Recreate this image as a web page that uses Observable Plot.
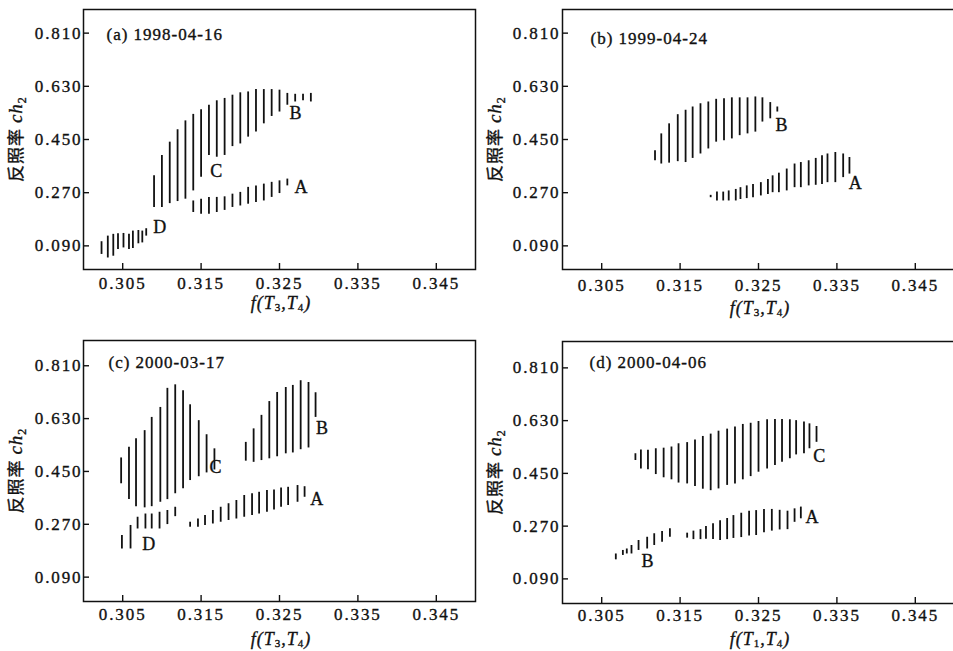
<!DOCTYPE html>
<html><head><meta charset="utf-8">
<script src="https://cdn.jsdelivr.net/npm/d3@7"></script>
<script src="https://cdn.jsdelivr.net/npm/@observablehq/plot@0.6"></script>
<style>
body{margin:0;background:#fff;}
#wrap{position:relative;width:953px;height:651px;overflow:hidden;background:#fff;}
#wrap svg{position:absolute;overflow:visible;}
#wrap svg text{stroke:#111;stroke-width:0.35px;}
#wrap svg [aria-label="x-axis tick label"] text,
#wrap svg [aria-label="y-axis tick label"] text{letter-spacing:1.9px;}
</style></head><body><div id="wrap"></div>
<script>
// ---- ticks ----
const xTicks = [0.305, 0.315, 0.325, 0.335, 0.345];
const yTicks = [0.090, 0.270, 0.450, 0.630, 0.810];

// ---- panel (a) 1998-04-16 ----
const aD_x  = [0.3023,0.3031,0.3038,0.3044,0.3051,0.3058,0.3063,0.3070,0.3075,0.3080];
const aD_hi = [0.104,0.123,0.129,0.131,0.132,0.129,0.140,0.142,0.140,0.148];
const aD_lo = [0.061,0.049,0.055,0.078,0.083,0.078,0.081,0.097,0.100,0.123];
const aCB_x  = [0.309,0.310,0.311,0.312,0.313,0.314,0.315,0.316,0.317,0.318,0.319,0.320,0.321,0.322,0.323,0.324,0.325,0.326,0.327,0.328,0.329];
const aCB_hi = [0.327,0.396,0.441,0.483,0.513,0.535,0.551,0.566,0.581,0.589,0.600,0.608,0.611,0.619,0.619,0.619,0.617,0.606,0.603,0.603,0.606];
const aCB_lo = [0.220,0.220,0.233,0.240,0.248,0.276,0.322,0.396,0.390,0.396,0.426,0.435,0.458,0.475,0.503,0.528,0.543,0.566,0.577,0.581,0.577];
const aA_x  = [0.314,0.315,0.316,0.317,0.318,0.319,0.320,0.321,0.322,0.323,0.324,0.325,0.326];
const aA_hi = [0.242,0.248,0.254,0.254,0.256,0.265,0.271,0.288,0.293,0.299,0.305,0.310,0.316];
const aA_lo = [0.203,0.197,0.197,0.203,0.210,0.220,0.225,0.231,0.237,0.242,0.254,0.267,0.293];
const aLab_text = ["A","B","C","D"];
const aLab_x = [0.3278,0.3271,0.3170,0.3098];
const aLab_y = [0.288,0.538,0.344,0.154];

// ---- panel (b) 1999-04-24 ----
const bB_x  = [0.3118,0.3126,0.3136,0.3147,0.3157,0.3166,0.3176,0.3186,0.3196,0.3206,0.3216,0.3226,0.3236,0.3246,0.3255,0.3265,0.3274];
const bB_hi = [0.412,0.469,0.503,0.534,0.549,0.560,0.571,0.577,0.586,0.588,0.591,0.591,0.591,0.594,0.591,0.575,0.560];
const bB_lo = [0.378,0.367,0.370,0.375,0.372,0.386,0.401,0.418,0.441,0.446,0.452,0.463,0.469,0.475,0.509,0.520,0.543];
const bA_x  = [0.3189,0.3197,0.3205,0.3212,0.3221,0.3227,0.3235,0.3243,0.3253,0.3262,0.3268,0.3276,0.3286,0.3296,0.3304,0.3314,0.3323,0.3331,0.3338,0.3348,0.3358,0.3366];
const bA_hi = [0.261,0.272,0.272,0.276,0.281,0.287,0.293,0.298,0.304,0.315,0.327,0.336,0.350,0.367,0.372,0.378,0.386,0.395,0.401,0.406,0.401,0.389];
const bA_lo = [0.253,0.242,0.242,0.242,0.242,0.247,0.250,0.253,0.259,0.264,0.270,0.270,0.276,0.287,0.287,0.293,0.295,0.298,0.304,0.304,0.321,0.333];
const bLab_text = ["B","A"];
const bLab_x = [0.3280,0.3374];
const bLab_y = [0.497,0.301];

// ---- panel (c) 2000-03-17 ----
const cC_x  = [0.3048,0.3058,0.3067,0.3078,0.3087,0.3098,0.3107,0.3117,0.3127,0.3136,0.3147,0.3157,0.3167];
const cC_hi = [0.496,0.532,0.561,0.589,0.634,0.668,0.733,0.745,0.725,0.677,0.623,0.575,0.527];
const cC_lo = [0.408,0.354,0.330,0.326,0.330,0.345,0.354,0.374,0.391,0.419,0.432,0.445,0.455];
const cB_x  = [0.3207,0.3217,0.3227,0.3237,0.3247,0.3258,0.3267,0.3277,0.3287,0.3296];
const cB_hi = [0.549,0.595,0.641,0.688,0.719,0.736,0.743,0.759,0.753,0.718];
const cB_lo = [0.485,0.481,0.487,0.493,0.500,0.510,0.513,0.524,0.530,0.634];
const cD_x  = [0.3049,0.3060,0.3069,0.3079,0.3087,0.3097,0.3107,0.3117];
const cD_hi = [0.232,0.266,0.294,0.305,0.305,0.311,0.317,0.328];
const cD_lo = [0.186,0.186,0.254,0.254,0.254,0.254,0.269,0.296];
const cA_x  = [0.3136,0.3146,0.3155,0.3165,0.3175,0.3185,0.3195,0.3205,0.3215,0.3224,0.3234,0.3243,0.3252,0.3261,0.3273,0.3282];
const cA_hi = [0.277,0.288,0.300,0.317,0.328,0.340,0.351,0.368,0.374,0.379,0.385,0.387,0.394,0.396,0.402,0.398];
const cA_lo = [0.260,0.260,0.266,0.271,0.277,0.283,0.288,0.294,0.300,0.305,0.311,0.319,0.328,0.334,0.345,0.362];
const cLab_text = ["C","B","A","D"];
const cLab_x = [0.3169,0.3305,0.3298,0.3084];
const cLab_y = [0.464,0.598,0.356,0.201];

// ---- panel (d) 2000-04-06 ----
const dC_x  = [0.3093,0.3100,0.3109,0.3119,0.3129,0.3139,0.3148,0.3159,0.3169,0.3179,0.3189,0.3199,0.3210,0.3220,0.3230,0.3240,0.3250,0.3261,0.3271,0.3280,0.3290,0.3298,0.3308,0.3315,0.3324];
const dC_hi = [0.517,0.530,0.529,0.534,0.536,0.540,0.551,0.555,0.564,0.576,0.584,0.594,0.601,0.608,0.617,0.621,0.627,0.633,0.634,0.634,0.633,0.630,0.625,0.619,0.610];
const dC_lo = [0.494,0.465,0.462,0.446,0.435,0.428,0.417,0.414,0.405,0.396,0.391,0.397,0.409,0.414,0.428,0.439,0.454,0.465,0.477,0.488,0.500,0.513,0.517,0.534,0.556];
const dA_x  = [0.3159,0.3167,0.3176,0.3183,0.3192,0.3201,0.3210,0.3218,0.3228,0.3238,0.3247,0.3257,0.3267,0.3277,0.3287,0.3296,0.3304];
const dA_hi = [0.246,0.253,0.258,0.269,0.278,0.288,0.296,0.306,0.314,0.321,0.323,0.327,0.327,0.324,0.321,0.329,0.335];
const dA_lo = [0.229,0.224,0.224,0.225,0.224,0.221,0.224,0.228,0.231,0.236,0.238,0.247,0.253,0.257,0.258,0.283,0.295];
const dB_x  = [0.3068,0.3077,0.3082,0.3088,0.3097,0.3108,0.3117,0.3127,0.3137];
const dB_hi = [0.175,0.187,0.192,0.204,0.221,0.232,0.244,0.252,0.261];
const dB_lo = [0.155,0.170,0.175,0.175,0.187,0.192,0.204,0.215,0.232];
const dLab_text = ["C","A","B"];
const dLab_x = [0.3328,0.3319,0.3109];
const dLab_y = [0.508,0.301,0.150];

// ---- helpers ----
const rows = (xs, lo, hi) => xs.map((x, i) => ({x, lo: lo[i], hi: hi[i]}));
const labs = (t, xs, ys) => t.map((s, i) => ({text: s, x: xs[i], y: ys[i]}));
const SERIF = "'Liberation Serif', 'Times New Roman', serif";
const CJK = "'Noto Sans CJK SC', sans-serif";

const panels = [
  {title: "(a) 1998-04-16", bars: [...rows(aD_x,aD_lo,aD_hi), ...rows(aCB_x,aCB_lo,aCB_hi), ...rows(aA_x,aA_lo,aA_hi)],
   labels: labs(aLab_text,aLab_x,aLab_y), left: 0, top: 0, height: 320, mt: 9, mb: 51, ydom: [0.01, 0.89],
   tdx: 23, tdy: 25, xpad: 7, ypad: 1, xlabY: 309, ylabX: 22, sub1: "3"},
  {title: "(b) 1999-04-24", bars: [...rows(bB_x,bB_lo,bB_hi), ...rows(bA_x,bA_lo,bA_hi)],
   labels: labs(bLab_text,bLab_x,bLab_y), left: 479, top: 0, height: 320, mt: 9, mb: 51, ydom: [0.01, 0.89],
   tdx: 28, tdy: 29, xpad: 9, ypad: 2, xlabY: 314, ylabX: 22, sub1: "3"},
  {title: "(c) 2000-03-17", bars: [...rows(cC_x,cC_lo,cC_hi), ...rows(cB_x,cB_lo,cB_hi), ...rows(cD_x,cD_lo,cD_hi), ...rows(cA_x,cA_lo,cA_hi)],
   labels: labs(cLab_text,cLab_x,cLab_y), left: 0, top: 320, height: 331, mt: 20, mb: 50, ydom: [0.007, 0.896],
   tdx: 25, tdy: 22, xpad: 6, ypad: 1, xlabY: 325, ylabX: 22, sub1: "3"},
  {title: "(d) 2000-04-06", bars: [...rows(dC_x,dC_lo,dC_hi), ...rows(dA_x,dA_lo,dA_hi), ...rows(dB_x,dB_lo,dB_hi)],
   labels: labs(dLab_text,dLab_x,dLab_y), left: 479, top: 320, height: 331, mt: 21, mb: 48, ydom: [0.006, 0.900],
   tdx: 27, tdy: 21, xpad: 5, ypad: 2, xlabY: 325, ylabX: 22, sub1: "1"}
];

const wrap = document.getElementById("wrap");
const ML = 83, PW = 392;

for (const p of panels) {
  const ph = p.height - p.mt - p.mb;
  const svgEl = Plot.plot({
    width: ML + PW + 1, height: p.height,
    marginLeft: ML, marginRight: 1, marginTop: p.mt, marginBottom: p.mb,
    style: {fontFamily: SERIF, fontSize: "17px", color: "#111", background: "transparent", letterSpacing: "1px"},
    x: {domain: [0.300, 0.350]},
    y: {domain: p.ydom},
    marks: [
      Plot.axisX(xTicks, {tickSize: 0, tickPadding: p.xpad, tickFormat: d3.format(".3f"), label: null, fontSize: 17}),
      Plot.axisY(yTicks, {tickSize: 0, tickPadding: p.ypad, tickFormat: d3.format(".3f"), label: null, fontSize: 17}),
      Plot.tickX(xTicks, {x: d => d, insetTop: ph - 6, stroke: "#111", strokeWidth: 1.4}),
      Plot.tickY(yTicks, {y: d => d, insetRight: PW - 6, stroke: "#111", strokeWidth: 1.4}),
      Plot.ruleX(p.bars, {x: "x", y1: "lo", y2: "hi", stroke: "#111", strokeWidth: 1.8}),
      Plot.text(p.labels, {x: "x", y: "y", text: "text", fontSize: 18, fill: "#111", textAnchor: "middle", lineAnchor: "middle"}),
      Plot.text([p.title], {frameAnchor: "top-left", dx: p.tdx, dy: p.tdy, textAnchor: "start", lineAnchor: "middle", fontSize: 17, fill: "#111"}),
      Plot.frame({stroke: "#111", strokeWidth: 1.5})
    ]
  });
  svgEl.style.left = p.left + "px";
  svgEl.style.top = p.top + "px";
  wrap.appendChild(svgEl);
  const svg = d3.select(svgEl);
  // y-axis label
  const yl = svg.append("text")
    .attr("transform", `translate(${p.ylabX},${p.mt + ph / 2}) rotate(-90)`)
    .attr("text-anchor", "middle").attr("fill", "#111").attr("font-size", 17);
  yl.append("tspan").attr("font-family", CJK).text("反照率 ");
  yl.append("tspan").attr("font-family", SERIF).attr("font-style", "italic").attr("font-size", 19).text("ch");
  yl.append("tspan").attr("font-family", SERIF).attr("font-size", 12).attr("dy", 4).text("2");
  // x-axis label
  const xl = svg.append("text")
    .attr("x", ML + PW / 2 + 2).attr("y", p.xlabY)
    .attr("text-anchor", "middle").attr("fill", "#111").attr("font-family", SERIF)
    .attr("font-size", 18).attr("font-style", "italic");
  xl.append("tspan").text("f(T");
  xl.append("tspan").attr("font-size", 11).attr("dy", 2).attr("font-style", "normal").text(p.sub1);
  xl.append("tspan").attr("dy", -2).text(",T");
  xl.append("tspan").attr("font-size", 11).attr("dy", 2).attr("font-style", "normal").text("4");
  xl.append("tspan").attr("dy", -2).text(")");
}
</script>
</body></html>
